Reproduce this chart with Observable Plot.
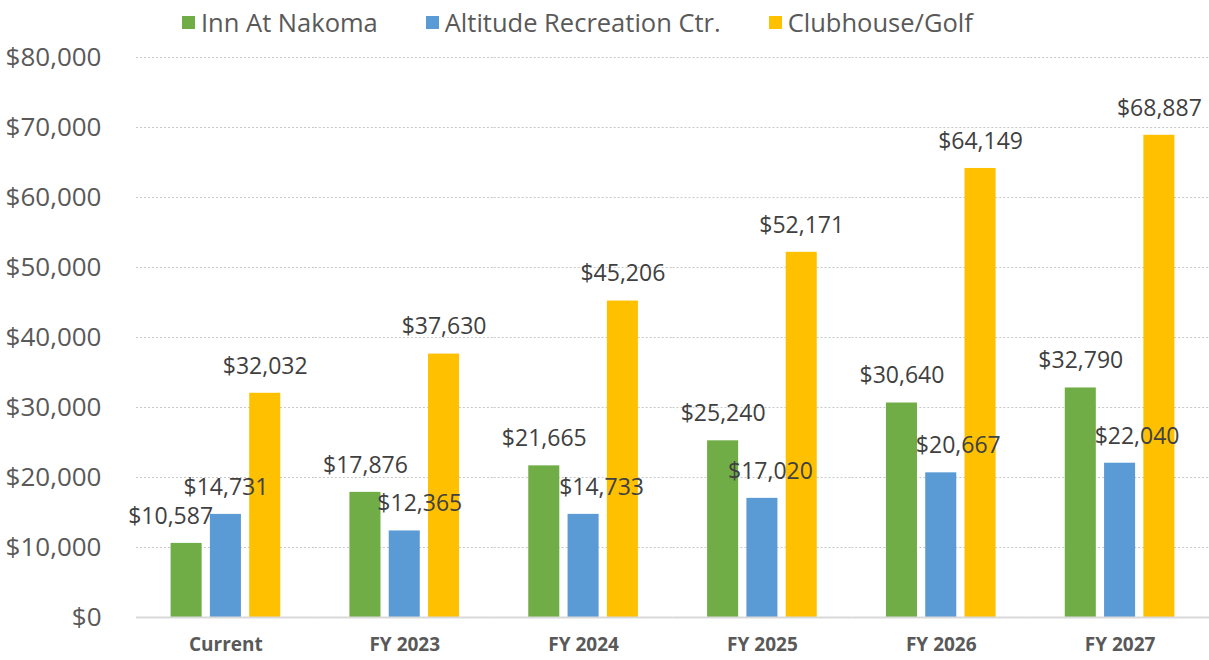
<!DOCTYPE html>
<html>
<head>
<meta charset="utf-8">
<script src="https://cdn.jsdelivr.net/npm/d3@7"></script>
<script src="https://cdn.jsdelivr.net/npm/@observablehq/plot@0.6"></script>
<style>
  body { margin: 0; background: #fff; font-family: "Open Sans", sans-serif; }
  #legend { height: 44px; display: flex; align-items: center; padding-left: 182px; box-sizing: border-box; }
  .item { display: flex; align-items: center; margin-right: 48px; font-size: 25.5px; color: #595959; }
  .sw { width: 13px; height: 13px; margin-right: 6px; }
</style>
</head>
<body>
<div id="legend"></div>
<div id="chart"></div>
<script>
const categories = ["Current", "FY 2023", "FY 2024", "FY 2025", "FY 2026", "FY 2027"];
const seriesNames = ["Inn At Nakoma", "Altitude Recreation Ctr.", "Clubhouse/Golf"];
const innValues = [10587, 17876, 21665, 25240, 30640, 32790];
const altitudeValues = [14731, 12365, 14733, 17020, 20667, 22040];
const clubhouseValues = [32032, 37630, 45206, 52171, 64149, 68887];
const yTicks = [0, 10000, 20000, 30000, 40000, 50000, 60000, 70000, 80000];
const colors = ["#70AD47", "#5B9BD5", "#FFC000"];

const seriesValues = [innValues, altitudeValues, clubhouseValues];
const data = [];
categories.forEach((c, i) => {
  seriesNames.forEach((s, j) => data.push({cat: c, series: s, value: seriesValues[j][i]}));
});

// legend
const legend = document.getElementById("legend");
seriesNames.forEach((s, j) => {
  const it = document.createElement("div");
  it.className = "item";
  it.innerHTML = `<div class="sw" style="background:${colors[j]}"></div><span>${s}</span>`;
  legend.appendChild(it);
});

// label nudges (horizontal, px) as in the reference
const labelNudge = {
  "Current|Inn At Nakoma": -16,
  "FY 2023|Altitude Recreation Ctr.": 15,
  "FY 2024|Altitude Recreation Ctr.": 18,
  "FY 2025|Altitude Recreation Ctr.": 8,
  "FY 2026|Altitude Recreation Ctr.": 17,
  "FY 2027|Altitude Recreation Ctr.": 17
};
const nudgeOf = d => labelNudge[d.cat + "|" + d.series] || 0;
const nudges = [...new Set(data.map(nudgeOf))];
const fmt = d => "$" + d3.format(",")(d.value);

const textMarks = nudges.map(n => Plot.text(data.filter(d => nudgeOf(d) === n), {
  fx: "cat", x: "series", y: "value", text: fmt, dy: -27, dx: n,
  fill: "#404040", fontSize: 23, lineAnchor: "middle"
}));

const chart = Plot.plot({
  width: 1209,
  height: 616,
  marginLeft: 136,
  marginRight: 0,
  marginTop: 13,
  marginBottom: 43,
  style: {fontFamily: "Open Sans, sans-serif", background: "#fff", overflow: "visible"},
  fx: {domain: categories, padding: 0, round: false, label: null, axis: null},
  x: {domain: seriesNames, paddingInner: 0.21, paddingOuter: 0.88, round: false, axis: null},
  y: {domain: [0, 80000], label: null, axis: null},
  color: {domain: seriesNames, range: colors},
  marks: [
    Plot.gridY(yTicks.filter(t => t > 0), {stroke: "#c8c8c8", strokeOpacity: 1, strokeDasharray: "2,2", strokeWidth: 1}),
    Plot.barY(data, {fx: "cat", x: "series", y: "value", fill: "series"}),
    Plot.ruleY([0], {stroke: "#d9d9d9", strokeWidth: 2}),
    Plot.axisY({ticks: yTicks, tickSize: 0, tickPadding: 35, tickFormat: d => "$" + d3.format(",")(d),
      fontSize: 26, fill: "#595959", label: null, facetAnchor: "left"}),
    Plot.axisFx({anchor: "bottom", domain: categories, tickSize: 0, tickPadding: 20, fontSize: 19, fontWeight: "bold", fill: "#595959", label: null}),
    ...textMarks
  ]
});
document.getElementById("chart").appendChild(chart);
</script>
</body>
</html>
